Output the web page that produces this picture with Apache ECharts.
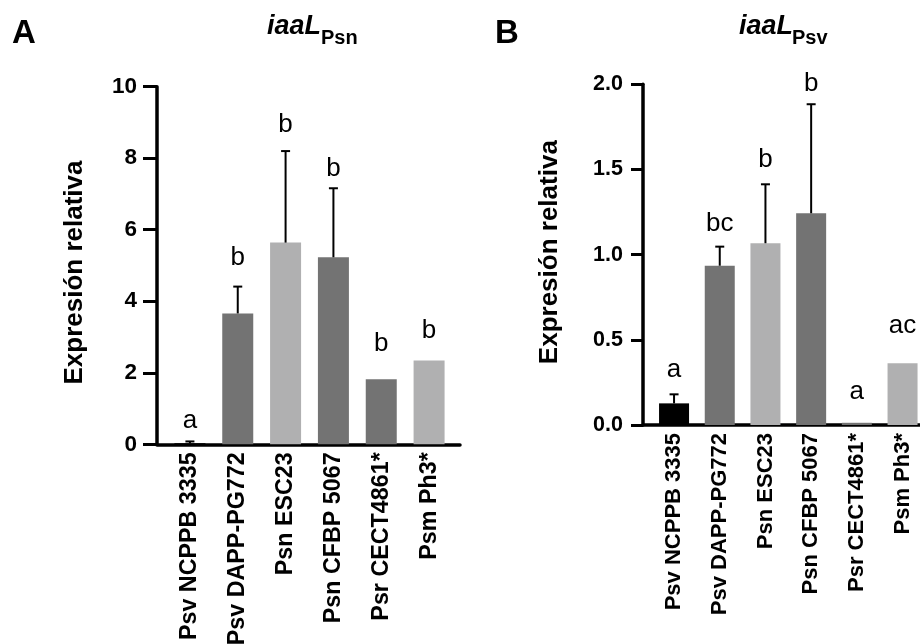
<!DOCTYPE html>
<html>
<head>
<meta charset="utf-8">
<script src="https://cdn.jsdelivr.net/npm/echarts@6/dist/echarts.min.js"></script>
<style>html,body{margin:0;padding:0;background:#fff}#c{width:920px;height:644px}</style>
</head>
<body>
<div id="c"></div>
<script>
// ---- data ----
const categories = ['Psv NCPPB 3335', 'Psv DAPP-PG772', 'Psn ESC23', 'Psn CFBP 5067', 'Psr CECT4861*', 'Psm Ph3*'];
const psnMean = [0.03, 3.66, 5.64, 5.23, 1.82, 2.34];
const psnErr = [0.05, 0.75, 2.56, 1.93, 0, 0];
const psnLetters = ['a', 'b', 'b', 'b', 'b', 'b'];
const psnLetterAt = [0.43, 4.99, 8.71, 7.47, 2.59, 2.94];
const psvMean = [0.127, 0.935, 1.067, 1.243, 0.013, 0.362];
const psvErr = [0.053, 0.112, 0.346, 0.64, 0, 0];
const psvLetters = ['a', 'bc', 'b', 'b', 'a', 'ac'];
const psvLetterAt = [0.276, 1.133, 1.509, 1.955, 0.147, 0.534];
const psnTicks = {min: 0, max: 10, interval: 2};
const psvTicks = {min: 0, max: 2, interval: 0.5};

// ---- styles ----
const FONT = '"Liberation Sans", Arial, Helvetica, sans-serif';
const shades = ['#000000', '#737373', '#b0b0b1', '#737373', '#737373', '#b0b0b1'];

const chart = echarts.init(document.getElementById('c'), null, {renderer: 'canvas'});

function errSeries(xi, yi, mean, err) {
  return {
    type: 'custom', xAxisIndex: xi, yAxisIndex: yi, z: 5,
    data: mean.map((m, i) => [i, m + err[i], m, err[i]]),
    renderItem: function (params, api) {
      if (api.value(3) <= 0) return null;
      const top = api.coord([api.value(0), api.value(1)]);
      const base = api.coord([api.value(0), api.value(2)]);
      const st = {stroke: '#000', lineWidth: 2};
      return {type: 'group', children: [
        {type: 'line', shape: {x1: top[0], y1: base[1], x2: top[0], y2: top[1]}, style: st},
        {type: 'line', shape: {x1: top[0] - 4.5, y1: top[1], x2: top[0] + 4.5, y2: top[1]}, style: st}
      ]};
    }
  };
}
function letterSeries(xi, yi, at, letters) {
  return {
    type: 'custom', xAxisIndex: xi, yAxisIndex: yi, z: 6,
    data: at.map((v, i) => [i, v]),
    renderItem: function (params, api) {
      const p = api.coord([api.value(0), api.value(1)]);
      return {type: 'text', x: p[0], y: p[1] + 5, style: {
        text: letters[params.dataIndex], fill: '#000',
        font: '26px ' + FONT, align: 'center', verticalAlign: 'bottom'
      }};
    }
  };
}
function barSeries(xi, yi, mean, w) {
  return {
    type: 'bar', xAxisIndex: xi, yAxisIndex: yi, barWidth: w, z: 2,
    data: mean.map((v, i) => ({value: v, itemStyle: {color: shades[i]}}))
  };
}
function catAxis(gi, size) {
  return {
    type: 'category', gridIndex: gi, data: categories, boundaryGap: true,
    axisLine: {show: false}, axisTick: {show: false},
    axisLabel: {rotate: 90, margin: 8, color: '#000', fontFamily: FONT, fontWeight: 'bold', fontSize: size, interval: 0}
  };
}
function lineAxis(gi) {
  return {
    type: 'value', gridIndex: gi, min: 0, max: 1,
    axisLine: {show: true, lineStyle: {color: '#000', width: 3.5}},
    axisTick: {show: false}, axisLabel: {show: false}, splitLine: {show: false}
  };
}
function valAxis(gi, ticks, off, tickLen, gap, pad, fmt, size) {
  return {
    type: 'value', gridIndex: gi, min: ticks.min, max: ticks.max, interval: ticks.interval,
    offset: off,
    name: 'Expresión relativa', nameLocation: 'middle', nameRotate: 90, nameGap: gap,
    nameTextStyle: {color: '#000', fontFamily: FONT, fontWeight: 'bold', fontSize: 26, padding: pad},
    axisLine: {show: true, lineStyle: {color: '#000', width: 3.5}},
    axisTick: {show: true, length: tickLen, lineStyle: {color: '#000', width: 3}},
    axisLabel: {color: '#000', fontFamily: FONT, fontWeight: 'bold', fontSize: size, margin: 20, formatter: fmt},
    splitLine: {show: false}
  };
}
function hiddenY(gi) {
  return {type: 'value', gridIndex: gi, min: 0, max: 1, show: false};
}

const option = {
  animation: false,
  backgroundColor: '#fff',
  title: [
    {text: 'A', left: 12, top: 17, padding: 0, textStyle: {fontFamily: FONT, fontWeight: 'bold', fontSize: 33, color: '#000'}},
    {text: 'iaaL', left: 267, top: 13, padding: 0, textStyle: {fontFamily: FONT, fontWeight: 'bold', fontStyle: 'italic', fontSize: 27, color: '#000'}},
    {text: 'Psn', left: 321, top: 28, padding: 0, textStyle: {fontFamily: FONT, fontWeight: 'bold', fontSize: 20, color: '#000'}},
    {text: 'B', left: 495, top: 17, padding: 0, textStyle: {fontFamily: FONT, fontWeight: 'bold', fontSize: 33, color: '#000'}},
    {text: 'iaaL', left: 739, top: 13, padding: 0, textStyle: {fontFamily: FONT, fontWeight: 'bold', fontStyle: 'italic', fontSize: 27, color: '#000'}},
    {text: 'Psv', left: 792, top: 28, padding: 0, textStyle: {fontFamily: FONT, fontWeight: 'bold', fontSize: 20, color: '#000'}}
  ],
  grid: [
    {left: 166, width: 287, top: 86.7, height: 357.6, outerBoundsMode: 'none', containLabel: false},
    {left: 157, width: 303, top: 86.7, height: 357.6, outerBoundsMode: 'none', containLabel: false},
    {left: 651.2, width: 274.2, top: 84.3, height: 340.7, outerBoundsMode: 'none', containLabel: false},
    {left: 643, width: 290, top: 84.3, height: 340.7, outerBoundsMode: 'none', containLabel: false}
  ],
  xAxis: [catAxis(0, 23.3), lineAxis(1), catAxis(2, 22), lineAxis(3)],
  yAxis: [
    valAxis(0, psnTicks, 9, 14, 69, [0, 14, 0, 0], v => String(v), 22.5),
    hiddenY(1),
    valAxis(2, psvTicks, 8.2, 12, 80, [0, 0, 0, 5], v => v.toFixed(1), 21.5),
    hiddenY(3)
  ],
  series: [
    barSeries(0, 0, psnMean, 31),
    errSeries(0, 0, psnMean, psnErr),
    letterSeries(0, 0, psnLetterAt, psnLetters),
    barSeries(2, 2, psvMean, 30),
    errSeries(2, 2, psvMean, psvErr),
    letterSeries(2, 2, psvLetterAt, psvLetters)
  ]
};
chart.setOption(option);
</script>
</body>
</html>
